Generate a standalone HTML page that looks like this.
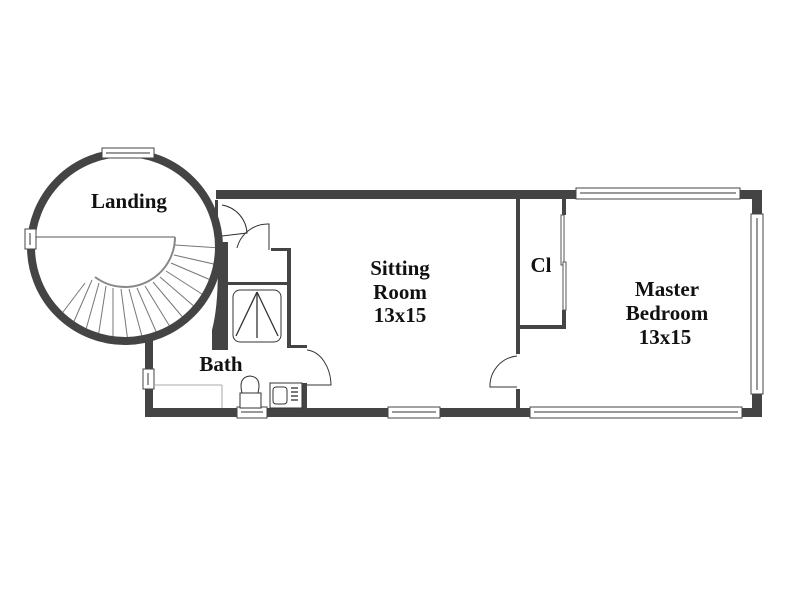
<!DOCTYPE html>
<html><head><style>
html,body{margin:0;padding:0;background:#fff;}
svg{display:block;}
text{font-family:"Liberation Serif",serif;font-weight:bold;font-size:21px;fill:#111;text-anchor:middle;}
</style></head><body>
<svg width="800" height="600" viewBox="0 0 800 600">
<defs>
<clipPath id="circ"><circle cx="125" cy="247" r="90"/></clipPath>
</defs>
<g stroke="#777" stroke-width="1" fill="none" clip-path="url(#circ)">
<line x1="36" y1="237" x2="175" y2="237" stroke="#555"/>
<path d="M175,237 A50,50 0 0 1 95,277" stroke="#888" stroke-width="2"/>
<line x1="175" y1="245" x2="220" y2="248"/>
<line x1="174" y1="255" x2="218" y2="265"/>
<line x1="171" y1="263" x2="213" y2="281"/>
<line x1="166" y1="271" x2="205" y2="296"/>
<line x1="160" y1="277" x2="196" y2="308"/>
<line x1="153" y1="282" x2="185" y2="320"/>
<line x1="145" y1="286" x2="172" y2="330"/>
<line x1="137" y1="288" x2="158" y2="336"/>
<line x1="129" y1="289" x2="143" y2="340"/>
<line x1="121" y1="289" x2="128" y2="342"/>
<line x1="113" y1="288" x2="113" y2="341"/>
<line x1="106" y1="286" x2="98" y2="338"/>
<line x1="99" y1="283" x2="85" y2="333"/>
<line x1="92" y1="280" x2="72" y2="326"/>
<line x1="85" y1="283" x2="60" y2="316"/>
</g>
<circle cx="125" cy="247" r="94" fill="none" stroke="#444" stroke-width="8"/>
<g fill="#444">
<rect x="216" y="190" width="546" height="9"/>
<rect x="752" y="190" width="10" height="227"/>
<rect x="145" y="408" width="617" height="9"/>
<rect x="145" y="340" width="8" height="77"/>
<rect x="516" y="199" width="4" height="155"/>
<rect x="516" y="389" width="4" height="20"/>
<rect x="520" y="325" width="46" height="4"/>
<rect x="562" y="199" width="4" height="16"/>
<rect x="562" y="310" width="4" height="19"/>
<path d="M217,242 L228,242 L228,350 L212,350 L212,330 Q220,300 217,242 Z"/>
<rect x="271" y="248" width="20" height="3"/>
<rect x="287" y="248" width="4" height="98"/>
<rect x="228" y="282" width="59" height="3"/>
<rect x="287" y="345" width="20" height="3"/>
<rect x="302" y="383" width="5" height="26"/>
<rect x="215" y="200" width="3" height="40"/>
</g>
<g fill="#fff" stroke="#444" stroke-width="1">
<rect x="576" y="188" width="164" height="11"/>
<rect x="530" y="407" width="212" height="11"/>
<rect x="751" y="214" width="12" height="180"/>
<rect x="388" y="407" width="52" height="11"/>
<rect x="237" y="407" width="30" height="11"/>
<rect x="102" y="148" width="52" height="10"/>
<rect x="25" y="229" width="11" height="20"/>
<rect x="143" y="369" width="11" height="20"/>
</g>
<g stroke="#999" stroke-width="2">
<line x1="580" y1="193" x2="736" y2="193"/>
<line x1="534" y1="412" x2="738" y2="412"/>
<line x1="757" y1="218" x2="757" y2="390"/>
<line x1="392" y1="412" x2="436" y2="412"/>
<line x1="241" y1="412" x2="263" y2="412"/>
<line x1="106" y1="153" x2="150" y2="153"/>
<line x1="30" y1="233" x2="30" y2="245"/>
<line x1="148" y1="373" x2="148" y2="385"/>
</g>
<g fill="#fff" stroke="#555" stroke-width="1">
<rect x="561" y="215" width="3" height="50"/>
<rect x="563" y="262" width="3" height="48"/>
</g>
<g fill="none" stroke="#333" stroke-width="1">
<path d="M222,205 A30,30 0 0 1 247,233 L222,236"/>
<path d="M237,248 A32,32 0 0 1 269,224 L269,250"/>
<path d="M307,350 A26,36 0 0 1 331,385 L307,385"/>
<path d="M517,356 A30,30 0 0 0 490,387 L517,387"/>
</g>
<g fill="#fff" stroke="#333" stroke-width="1">
<rect x="233" y="290" width="48" height="52" rx="7"/>
<rect x="270" y="383" width="32" height="25"/>
<rect x="273" y="387" width="14" height="17" rx="3"/>
<path d="M242,393 Q238,377 250,376 Q262,377 258,393 Z"/>
<rect x="240" y="393" width="21" height="15"/>
<line x1="153" y1="385" x2="222" y2="385" stroke="#aaa"/>
<line x1="222" y1="385" x2="222" y2="408" stroke="#aaa"/>
</g>
<g stroke="#333" stroke-width="1.3" fill="none">
<line x1="257" y1="292" x2="236" y2="336"/>
<line x1="257" y1="292" x2="278" y2="336"/>
<line x1="257" y1="292" x2="257" y2="338"/>
<line x1="291" y1="388" x2="298" y2="388"/><line x1="291" y1="392" x2="298" y2="392"/>
<line x1="291" y1="396" x2="298" y2="396"/><line x1="291" y1="400" x2="298" y2="400"/>
</g>
<text x="129" y="208">Landing</text>
<text x="400" y="275">Sitting</text>
<text x="400" y="299">Room</text>
<text x="400" y="322">13x15</text>
<text x="541" y="272">Cl</text>
<text x="667" y="296">Master</text>
<text x="667" y="320">Bedroom</text>
<text x="665" y="344">13x15</text>
<text x="221" y="371">Bath</text>
</svg>
</body></html>
